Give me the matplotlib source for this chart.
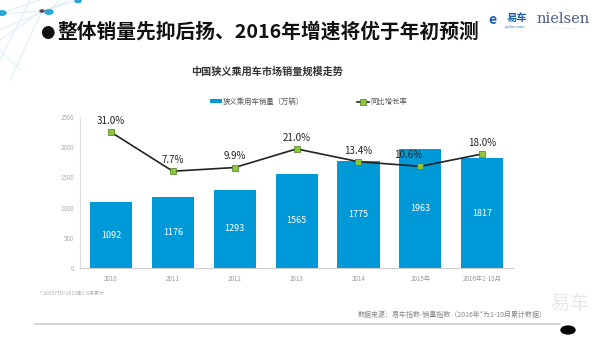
import matplotlib
matplotlib.use("Agg")
import matplotlib.pyplot as plt
from matplotlib.lines import Line2D
from matplotlib.patches import Circle

plt.rcParams["font.family"] = ["Noto Sans CJK SC", "DejaVu Sans"]

years = ["2010", "2011", "2012", "2013", "2014", "2015年", "2016年1-10月"]
sales = [1092, 1176, 1293, 1565, 1775, 1963, 1817]
growth = [31.0, 7.7, 9.9, 21.0, 13.4, 10.6, 18.0]

BLUE = "#0099d8"
GREEN = "#8cc63f"

fig = plt.figure(figsize=(6, 3.37), dpi=100)
W, H = 600, 337


def px(x, y):
    return x / W, 1 - y / H


# faint network decoration, top-left
deco = [((0, 14), (42, 11)), ((42, 11), (78, 0)), ((42, 11), (49, 12)), ((2, 13), (40, 0)),
        ((0, 40), (42, 11)), ((0, 60), (30, 0)), ((10, 80), (42, 11)), ((0, 30), (70, 0)),
        ((49, 12), (60, 0)), ((20, 70), (0, 50))]
for a, b in deco:
    (x0, y0), (x1, y1) = px(*a), px(*b)
    fig.add_artist(Line2D([x0, x1], [y0, y1], color="#d3ecf5", lw=0.6, zorder=0))
for cx, cy, r, c in [(2, 13, 4, "#2aa7d8"), (49, 12, 4, "#2aa7d8"), (42, 11, 2, "#555555"),
                     (78, 1, 3, "#2aa7d8")]:
    fig.add_artist(Circle(px(cx, cy), r / W, transform=fig.transFigure, color=c, zorder=0))

fig.text(*px(47, 32), "●", fontsize=12, color="#111111", va="center", ha="center",
         family="DejaVu Sans")
fig.text(*px(57, 32), "整体销量先抑后扬、2016年增速将优于年初预测",
         fontsize=14.2, fontweight="bold", color="#111111", va="center", ha="left")
fig.text(*px(492, 20), "e", fontsize=10, fontweight="bold", color="#1a5fb4", va="center", ha="center")
fig.text(*px(517, 18), "易车", fontsize=7.5, fontweight="bold", color="#1a5fb4", va="center", ha="center")
fig.text(*px(515, 27), "yiche.com", fontsize=3, color="#1a5fb4", va="center", ha="center")
fig.text(*px(563, 19), "nielsen", fontsize=10.5, family="DejaVu Serif", color="#4a5a8a",
         va="center", ha="center")
fig.text(*px(563, 29), "· · · · · · · ·", fontsize=4, color="#8a95b0", va="center", ha="center",
         family="DejaVu Sans")

fig.text(*px(267, 72), "中国狭义乘用车市场销量规模走势", fontsize=7.3, fontweight="bold",
         color="#333333", ha="center", va="center")

ax = fig.add_axes([0.1333, 0.2047, 0.722, 0.448])
x = list(range(len(years)))
ax.bar(x, sales, width=0.68, color=BLUE, label="狭义乘用车销量（万辆）", zorder=2)
for xi, v in zip(x, sales):
    ax.text(xi, v / 2, str(v), color="white", fontsize=6.5, ha="center", va="center", zorder=3)

ax.set_xlim(-0.5, len(years) - 0.5)
ax.set_ylim(0, 2500)
ax.set_yticks(range(0, 2501, 500))
ax.set_xticks(x)
ax.set_xticklabels(years)
ax.tick_params(axis="y", labelsize=4.5, colors="#aaaaaa", length=0, pad=4)
ax.tick_params(axis="x", labelsize=4.5, colors="#999999", length=0, pad=5)
for s in ["top", "right"]:
    ax.spines[s].set_visible(False)
ax.spines["left"].set_color("#dddddd")
ax.spines["bottom"].set_color("#cccccc")

ax2 = ax.twinx()
ax2.set_ylim(-50, 40)
ax2.plot(x, growth, color="#222222", lw=1.2, marker="s", markersize=4,
         markerfacecolor=GREEN, markeredgecolor="#4d7a1a", markeredgewidth=0.5,
         label="同比增长率", zorder=4)
ax2.axis("off")
for xi, g in zip(x, growth):
    dx = -9 if g == 10.6 else 0
    ax2.annotate(f"{g:.1f}%", (xi, g), xytext=(dx, 8), textcoords="offset points",
                 fontsize=7, ha="center", va="center", color="#222222")

h1, l1 = ax.get_legend_handles_labels()
h2, l2 = ax2.get_legend_handles_labels()
fig.legend(h1 + h2, l1 + l2, loc="center left", bbox_to_anchor=px(210, 102), ncol=2,
           frameon=False, fontsize=5.3, labelcolor="#555555", columnspacing=7.2,
           handlelength=1.6, handleheight=0.45, handletextpad=0.2, borderpad=0,
           borderaxespad=0)

fig.text(*px(40, 293), "* 2015YTD=2015年1-6月累计", fontsize=3.5, color="#aaaaaa", va="center")
fig.text(*px(358, 315), "数据来源：易车指数-销量指数（2016年*为1-10月累计数据）",
         fontsize=5, color="#888888", ha="left", va="center")
fig.text(*px(570, 303), "易车", fontsize=14, color="#e8e8e8", style="italic",
         ha="center", va="center")
(lx0, ly), (lx1, _) = px(35, 324), px(560, 324)
fig.add_artist(Line2D([lx0, lx1], [ly, ly], color="#cccccc", lw=1.2))
fig.add_artist(Circle(px(568, 330), 7 / W, transform=fig.transFigure, color="black"))

fig.savefig("out.png", dpi=100)
